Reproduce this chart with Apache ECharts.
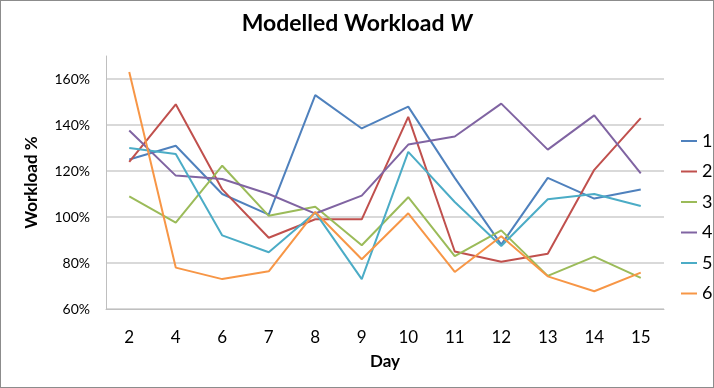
<!DOCTYPE html>
<html>
<head>
<meta charset="utf-8">
<script src="https://cdn.jsdelivr.net/npm/echarts@6/dist/echarts.min.js"></script>
<style>
  html, body { margin: 0; padding: 0; background: #fff; }
  #wrap { position: relative; width: 714px; height: 388px; }
  #chart { width: 714px; height: 388px; }
  #frame { position: absolute; left: 0; top: 0; width: 712px; height: 386px;
    border: 1px solid #8c8c8c; pointer-events: none; }
</style>
</head>
<body>
<div id="wrap">
  <div id="chart"></div>
  <div id="frame"></div>
</div>
<script>
// x axis days
const days = ['2', '4', '6', '7', '8', '9', '10', '11', '12', '13', '14', '15'];

// workload per series, in %
const w1 = [125, 131, 110, 101, 153, 138.5, 148, 117, 88, 117, 108, 112];
const w2 = [124, 149, 112, 91, 99, 99, 143.5, 85, 80.5, 84, 120.5, 143];
const w3 = [109, 97.6, 122.3, 100.5, 104.5, 87.7, 108.6, 83, 94.2, 74.4, 82.8, 73.5];
const w4 = [137.6, 118, 116.5, 110, 101.5, 109.3, 131.5, 135, 149.3, 129.3, 144.2, 119];
const w5 = [130, 127.4, 92, 84.7, 102, 73, 128.3, 106.5, 87.4, 107.7, 110, 104.8];
const w6 = [163, 78, 73, 76.4, 102.2, 81.6, 101.6, 76.1, 91.6, 74.2, 67.7, 75.8];

const seriesNames = ['1', '2', '3', '4', '5', '6'];
const seriesData = [w1, w2, w3, w4, w5, w6];
const colors = ['#4F81BD', '#C0504D', '#9BBB59', '#8064A2', '#4BACC6', '#F79646'];

const font = 'Lato, "Open Sans", sans-serif';

const chart = echarts.init(document.getElementById('chart'), null, { renderer: 'canvas' });

chart.setOption({
  animation: false,
  backgroundColor: '#fff',
  color: colors,
  title: {
    text: '{a|Modelled Workload }{b|W}',
    left: 'center',
    top: 7,
    textStyle: {
      rich: {
        a: { fontFamily: font, fontWeight: 'bold', fontSize: 23, color: '#000' },
        b: { fontFamily: font, fontWeight: 'bold', fontStyle: 'italic', fontSize: 23, color: '#000' }
      }
    }
  },
  legend: {
    orient: 'vertical',
    left: 676,
    top: 126,
    icon: 'rect',
    itemWidth: 16,
    itemHeight: 2,
    itemGap: 10.5,
    textStyle: { fontFamily: font, fontSize: 18, color: '#000', lineHeight: 20 },
    data: seriesNames
  },
  grid: { left: 106, right: 50, top: 56, bottom: 79, containLabel: false },
  xAxis: {
    type: 'category',
    data: days,
    boundaryGap: true,
    name: 'Day',
    nameLocation: 'middle',
    nameGap: 44,
    nameTextStyle: { fontFamily: font, fontWeight: 'bold', fontSize: 17, color: '#000' },
    axisLine: { lineStyle: { color: '#bfbfbf', width: 1 } },
    axisTick: { show: false },
    axisLabel: { fontFamily: font, fontSize: 17, color: '#000', margin: 20 }
  },
  yAxis: {
    type: 'value',
    min: 60,
    max: 170,
    interval: 20,
    name: 'Workload %',
    nameLocation: 'middle',
    nameGap: 66,
    nameTextStyle: { fontFamily: font, fontWeight: 'bold', fontSize: 17, color: '#000' },
    axisLine: { show: true, lineStyle: { color: '#bfbfbf', width: 1 } },
    axisTick: { show: false },
    axisLabel: {
      fontFamily: font, fontSize: 14, color: '#000', margin: 16,
      showMaxLabel: false,
      formatter: v => v + '%'
    },
    splitLine: { show: true, showMaxLine: false, lineStyle: { color: '#d9d9d9', width: 2 } }
  },
  series: seriesData.map((d, i) => ({
    name: seriesNames[i],
    type: 'line',
    data: d,
    symbol: 'none',
    lineStyle: { width: 2, color: colors[i] },
    itemStyle: { color: colors[i] }
  }))
});
</script>
</body>
</html>
